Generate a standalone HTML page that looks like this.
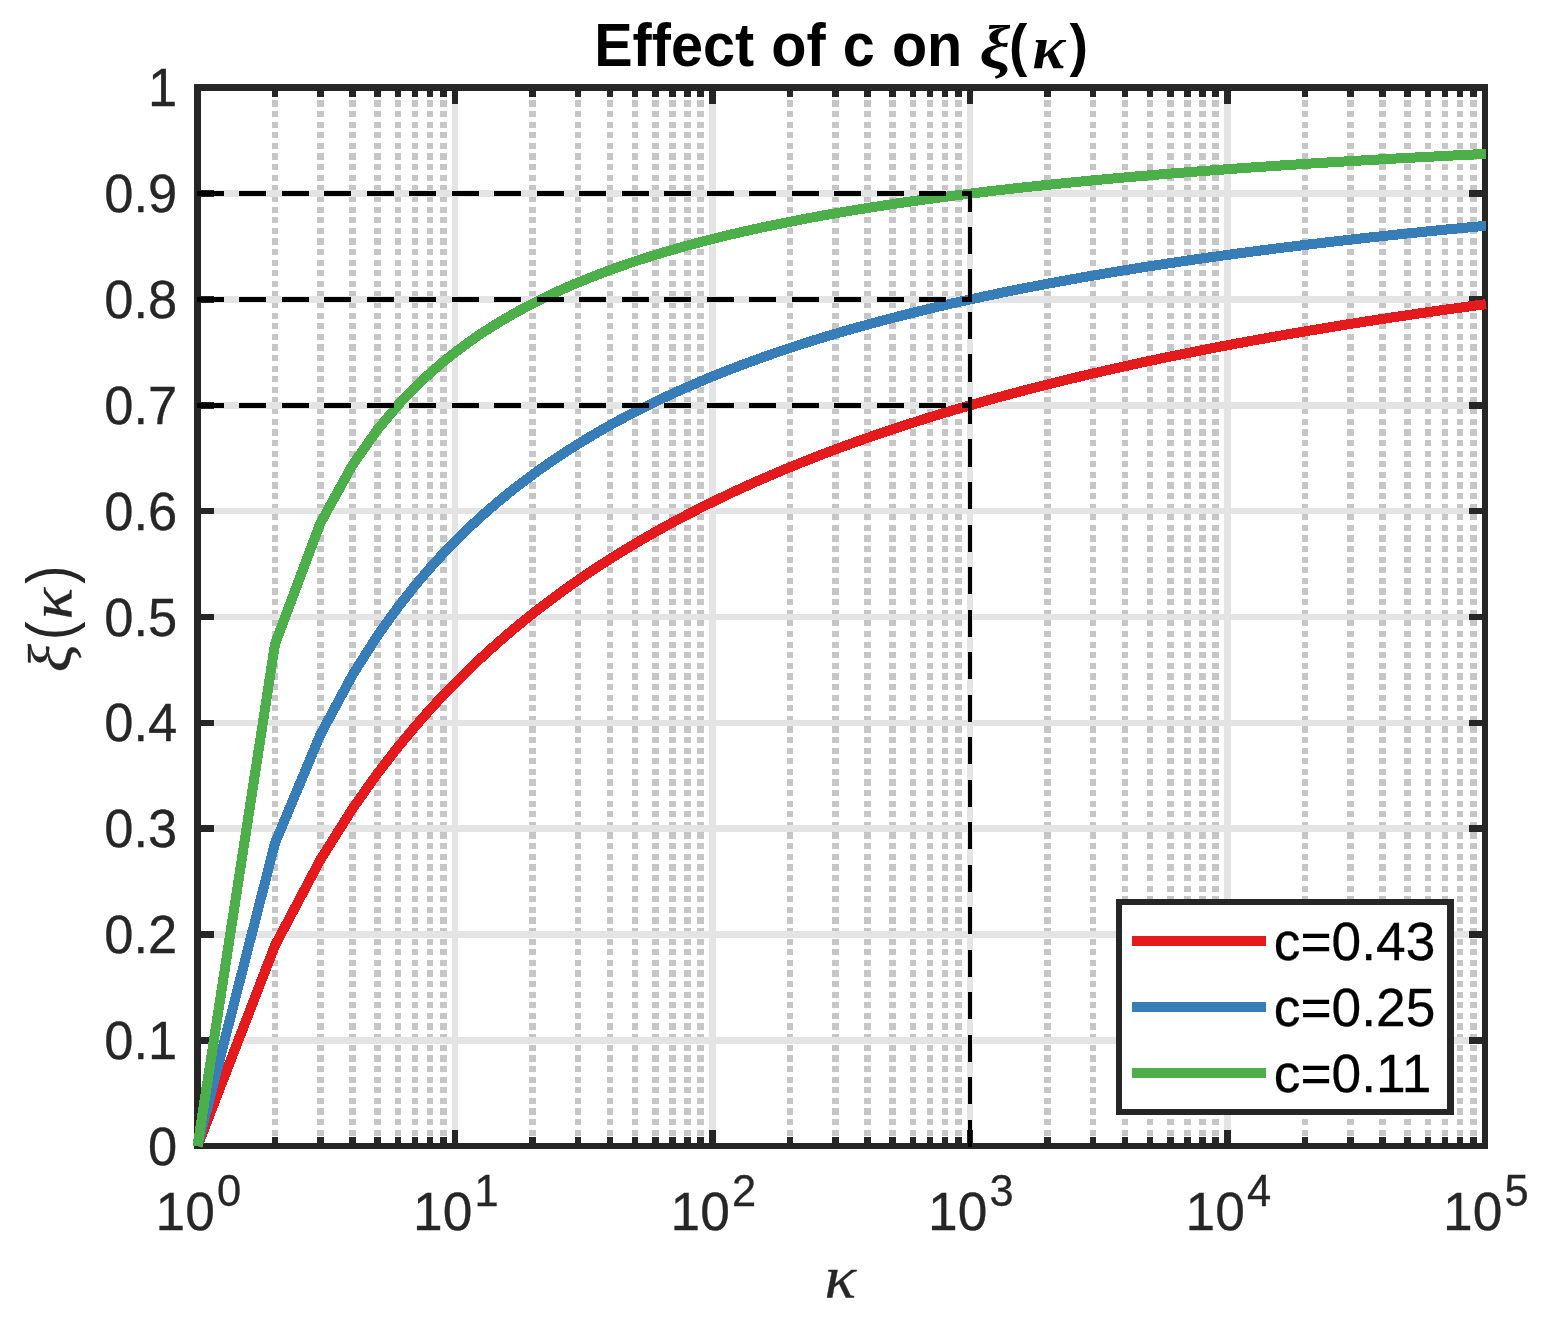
<!DOCTYPE html>
<html lang="en"><head><meta charset="utf-8"><title>Effect of c on ξ(κ)</title>
<style>html,body{margin:0;padding:0;background:#fff;}body{width:1547px;height:1324px;overflow:hidden;}svg{display:block;}text{font-family:'Liberation Sans', 'DejaVu Sans', sans-serif;}text.m,tspan.m{font-family:'Liberation Serif', 'DejaVu Serif', serif;}.i{font-style:italic;}.b{font-weight:bold;}</style>
</head><body>
<svg width="1547" height="1324" viewBox="0 0 1547 1324">
<rect x="0" y="0" width="1547" height="1324" fill="#ffffff"/>
<g stroke="#c6c6c6" stroke-dasharray="6.2 4.41" stroke-dashoffset="8.32" fill="none" shape-rendering="crispEdges">
<line x1="275.0" y1="87.5" x2="275.0" y2="1146" stroke-width="6"/>
<line x1="320.5" y1="87.5" x2="320.5" y2="1146" stroke-width="7"/>
<line x1="352.5" y1="87.5" x2="352.5" y2="1146" stroke-width="7"/>
<line x1="377.5" y1="87.5" x2="377.5" y2="1146" stroke-width="7"/>
<line x1="398.0" y1="87.5" x2="398.0" y2="1146" stroke-width="6"/>
<line x1="415.0" y1="87.5" x2="415.0" y2="1146" stroke-width="6"/>
<line x1="430.0" y1="87.5" x2="430.0" y2="1146" stroke-width="6"/>
<line x1="443.5" y1="87.5" x2="443.5" y2="1146" stroke-width="7"/>
<line x1="532.5" y1="87.5" x2="532.5" y2="1146" stroke-width="7"/>
<line x1="578.0" y1="87.5" x2="578.0" y2="1146" stroke-width="6"/>
<line x1="610.0" y1="87.5" x2="610.0" y2="1146" stroke-width="6"/>
<line x1="635.0" y1="87.5" x2="635.0" y2="1146" stroke-width="6"/>
<line x1="655.5" y1="87.5" x2="655.5" y2="1146" stroke-width="7"/>
<line x1="672.5" y1="87.5" x2="672.5" y2="1146" stroke-width="7"/>
<line x1="687.5" y1="87.5" x2="687.5" y2="1146" stroke-width="7"/>
<line x1="700.5" y1="87.5" x2="700.5" y2="1146" stroke-width="7"/>
<line x1="790.0" y1="87.5" x2="790.0" y2="1146" stroke-width="6"/>
<line x1="835.5" y1="87.5" x2="835.5" y2="1146" stroke-width="7"/>
<line x1="867.5" y1="87.5" x2="867.5" y2="1146" stroke-width="7"/>
<line x1="892.5" y1="87.5" x2="892.5" y2="1146" stroke-width="7"/>
<line x1="913.0" y1="87.5" x2="913.0" y2="1146" stroke-width="6"/>
<line x1="930.0" y1="87.5" x2="930.0" y2="1146" stroke-width="6"/>
<line x1="945.0" y1="87.5" x2="945.0" y2="1146" stroke-width="6"/>
<line x1="958.5" y1="87.5" x2="958.5" y2="1146" stroke-width="7"/>
<line x1="1047.5" y1="87.5" x2="1047.5" y2="1146" stroke-width="7"/>
<line x1="1093.0" y1="87.5" x2="1093.0" y2="1146" stroke-width="6"/>
<line x1="1125.0" y1="87.5" x2="1125.0" y2="1146" stroke-width="6"/>
<line x1="1150.0" y1="87.5" x2="1150.0" y2="1146" stroke-width="6"/>
<line x1="1170.5" y1="87.5" x2="1170.5" y2="1146" stroke-width="7"/>
<line x1="1187.5" y1="87.5" x2="1187.5" y2="1146" stroke-width="7"/>
<line x1="1202.5" y1="87.5" x2="1202.5" y2="1146" stroke-width="7"/>
<line x1="1215.5" y1="87.5" x2="1215.5" y2="1146" stroke-width="7"/>
<line x1="1305.0" y1="87.5" x2="1305.0" y2="1146" stroke-width="6"/>
<line x1="1350.5" y1="87.5" x2="1350.5" y2="1146" stroke-width="7"/>
<line x1="1382.5" y1="87.5" x2="1382.5" y2="1146" stroke-width="7"/>
<line x1="1407.5" y1="87.5" x2="1407.5" y2="1146" stroke-width="7"/>
<line x1="1428.0" y1="87.5" x2="1428.0" y2="1146" stroke-width="6"/>
<line x1="1445.0" y1="87.5" x2="1445.0" y2="1146" stroke-width="6"/>
<line x1="1460.0" y1="87.5" x2="1460.0" y2="1146" stroke-width="6"/>
<line x1="1473.5" y1="87.5" x2="1473.5" y2="1146" stroke-width="7"/>
</g>
<g fill="#e4e4e4" shape-rendering="crispEdges">
<rect x="452" y="84" width="6" height="1065"/>
<rect x="709" y="84" width="7" height="1065"/>
<rect x="967" y="84" width="6" height="1065"/>
<rect x="1224" y="84" width="7" height="1065"/>
<rect x="194" y="1037" width="1294" height="7"/>
<rect x="194" y="931" width="1294" height="7"/>
<rect x="194" y="825" width="1294" height="7"/>
<rect x="194" y="720" width="1294" height="6"/>
<rect x="194" y="614" width="1294" height="6"/>
<rect x="194" y="508" width="1294" height="6"/>
<rect x="194" y="402" width="1294" height="7"/>
<rect x="194" y="296" width="1294" height="7"/>
<rect x="194" y="190" width="1294" height="7"/>
</g>
<g fill="#262626" shape-rendering="crispEdges">
<rect x="272" y="84" width="6" height="13"/>
<rect x="272" y="1137" width="6" height="12"/>
<rect x="317" y="84" width="7" height="13"/>
<rect x="317" y="1137" width="7" height="12"/>
<rect x="349" y="84" width="7" height="13"/>
<rect x="349" y="1137" width="7" height="12"/>
<rect x="374" y="84" width="7" height="13"/>
<rect x="374" y="1137" width="7" height="12"/>
<rect x="395" y="84" width="6" height="13"/>
<rect x="395" y="1137" width="6" height="12"/>
<rect x="412" y="84" width="6" height="13"/>
<rect x="412" y="1137" width="6" height="12"/>
<rect x="427" y="84" width="6" height="13"/>
<rect x="427" y="1137" width="6" height="12"/>
<rect x="440" y="84" width="7" height="13"/>
<rect x="440" y="1137" width="7" height="12"/>
<rect x="452" y="84" width="6" height="20"/>
<rect x="452" y="1130" width="6" height="19"/>
<rect x="529" y="84" width="7" height="13"/>
<rect x="529" y="1137" width="7" height="12"/>
<rect x="575" y="84" width="6" height="13"/>
<rect x="575" y="1137" width="6" height="12"/>
<rect x="607" y="84" width="6" height="13"/>
<rect x="607" y="1137" width="6" height="12"/>
<rect x="632" y="84" width="6" height="13"/>
<rect x="632" y="1137" width="6" height="12"/>
<rect x="652" y="84" width="7" height="13"/>
<rect x="652" y="1137" width="7" height="12"/>
<rect x="669" y="84" width="7" height="13"/>
<rect x="669" y="1137" width="7" height="12"/>
<rect x="684" y="84" width="7" height="13"/>
<rect x="684" y="1137" width="7" height="12"/>
<rect x="697" y="84" width="7" height="13"/>
<rect x="697" y="1137" width="7" height="12"/>
<rect x="709" y="84" width="7" height="20"/>
<rect x="709" y="1130" width="7" height="19"/>
<rect x="787" y="84" width="6" height="13"/>
<rect x="787" y="1137" width="6" height="12"/>
<rect x="832" y="84" width="7" height="13"/>
<rect x="832" y="1137" width="7" height="12"/>
<rect x="864" y="84" width="7" height="13"/>
<rect x="864" y="1137" width="7" height="12"/>
<rect x="889" y="84" width="7" height="13"/>
<rect x="889" y="1137" width="7" height="12"/>
<rect x="910" y="84" width="6" height="13"/>
<rect x="910" y="1137" width="6" height="12"/>
<rect x="927" y="84" width="6" height="13"/>
<rect x="927" y="1137" width="6" height="12"/>
<rect x="942" y="84" width="6" height="13"/>
<rect x="942" y="1137" width="6" height="12"/>
<rect x="955" y="84" width="7" height="13"/>
<rect x="955" y="1137" width="7" height="12"/>
<rect x="967" y="84" width="6" height="20"/>
<rect x="967" y="1130" width="6" height="19"/>
<rect x="1044" y="84" width="7" height="13"/>
<rect x="1044" y="1137" width="7" height="12"/>
<rect x="1090" y="84" width="6" height="13"/>
<rect x="1090" y="1137" width="6" height="12"/>
<rect x="1122" y="84" width="6" height="13"/>
<rect x="1122" y="1137" width="6" height="12"/>
<rect x="1147" y="84" width="6" height="13"/>
<rect x="1147" y="1137" width="6" height="12"/>
<rect x="1167" y="84" width="7" height="13"/>
<rect x="1167" y="1137" width="7" height="12"/>
<rect x="1184" y="84" width="7" height="13"/>
<rect x="1184" y="1137" width="7" height="12"/>
<rect x="1199" y="84" width="7" height="13"/>
<rect x="1199" y="1137" width="7" height="12"/>
<rect x="1212" y="84" width="7" height="13"/>
<rect x="1212" y="1137" width="7" height="12"/>
<rect x="1224" y="84" width="7" height="20"/>
<rect x="1224" y="1130" width="7" height="19"/>
<rect x="1302" y="84" width="6" height="13"/>
<rect x="1302" y="1137" width="6" height="12"/>
<rect x="1347" y="84" width="7" height="13"/>
<rect x="1347" y="1137" width="7" height="12"/>
<rect x="1379" y="84" width="7" height="13"/>
<rect x="1379" y="1137" width="7" height="12"/>
<rect x="1404" y="84" width="7" height="13"/>
<rect x="1404" y="1137" width="7" height="12"/>
<rect x="1425" y="84" width="6" height="13"/>
<rect x="1425" y="1137" width="6" height="12"/>
<rect x="1442" y="84" width="6" height="13"/>
<rect x="1442" y="1137" width="6" height="12"/>
<rect x="1457" y="84" width="6" height="13"/>
<rect x="1457" y="1137" width="6" height="12"/>
<rect x="1470" y="84" width="7" height="13"/>
<rect x="1470" y="1137" width="7" height="12"/>
<rect x="194" y="1037" width="20" height="7"/>
<rect x="1469" y="1037" width="19" height="7"/>
<rect x="194" y="931" width="20" height="7"/>
<rect x="1469" y="931" width="19" height="7"/>
<rect x="194" y="825" width="20" height="7"/>
<rect x="1469" y="825" width="19" height="7"/>
<rect x="194" y="720" width="20" height="6"/>
<rect x="1469" y="720" width="19" height="6"/>
<rect x="194" y="614" width="20" height="6"/>
<rect x="1469" y="614" width="19" height="6"/>
<rect x="194" y="508" width="20" height="6"/>
<rect x="1469" y="508" width="19" height="6"/>
<rect x="194" y="402" width="20" height="7"/>
<rect x="1469" y="402" width="19" height="7"/>
<rect x="194" y="296" width="20" height="7"/>
<rect x="1469" y="296" width="19" height="7"/>
<rect x="194" y="190" width="20" height="7"/>
<rect x="1469" y="190" width="19" height="7"/>
<rect x="194" y="84" width="7" height="1065"/>
<rect x="1482" y="84" width="6" height="1065"/>
<rect x="194" y="84" width="1294" height="7"/>
<rect x="194" y="1143" width="1294" height="6"/>
</g>
<g shape-rendering="crispEdges">
<polyline points="197.50,1146.19 275.02,945.40 320.36,859.73 352.53,808.64 377.48,773.44 397.87,747.14 415.11,726.42 430.05,709.50 443.22,695.30 455.00,683.14 465.66,672.55 475.39,663.21 484.34,654.87 492.63,647.37 500.34,640.56 507.56,634.33 514.34,628.61 520.73,623.33 526.78,618.43 532.52,613.86 537.97,609.58 543.17,605.57 548.14,601.80 552.90,598.23 557.47,594.86 561.86,591.66 566.08,588.62 570.14,585.73 574.07,582.97 577.86,580.33 581.53,577.80 585.08,575.38 588.52,573.06 591.86,570.82 595.10,568.68 598.25,566.60 601.31,564.61 604.29,562.68 607.20,560.82 610.03,559.02 612.79,557.27 615.49,555.59 618.12,553.95 620.69,552.36 623.20,550.82 625.66,549.32 628.07,547.86 630.42,546.44 632.73,545.06 634.98,543.72 637.20,542.41 639.37,541.13 641.50,539.88 643.59,538.67 645.64,537.48 647.66,536.32 649.64,535.19 651.58,534.08 653.49,533.00 655.37,531.93 657.22,530.90 659.04,529.88 660.83,528.88 662.59,527.91 664.33,526.95 666.03,526.01 667.71,525.09 669.37,524.19 671.00,523.31 672.61,522.44 674.20,521.58 675.76,520.75 677.31,519.92 678.83,519.11 680.33,518.32 681.81,517.54 683.27,516.77 684.71,516.01 686.14,515.27 687.55,514.53 688.93,513.81 690.31,513.10 691.66,512.40 693.00,511.72 694.33,511.04 695.63,510.37 696.93,509.71 698.20,509.06 699.47,508.43 700.72,507.80 701.95,507.17 703.18,506.56 704.38,505.96 705.58,505.36 706.76,504.77 707.93,504.19 709.09,503.62 710.24,503.06 711.38,502.50 712.50,501.95 713.61,501.40 714.71,500.87 715.81,500.33 716.89,499.81 717.96,499.29 719.02,498.78 720.07,498.28 721.11,497.78 722.14,497.28 723.16,496.79 724.17,496.31 725.17,495.83 726.17,495.36 727.15,494.90 728.13,494.43 729.10,493.98 730.06,493.53 731.01,493.08 731.95,492.64 732.89,492.20 733.82,491.77 734.74,491.34 735.65,490.92 736.56,490.50 737.45,490.08 738.35,489.67 739.23,489.26 740.11,488.86 740.98,488.46 741.84,488.07 742.70,487.67 743.55,487.29 744.39,486.90 745.23,486.52 746.06,486.15 746.89,485.77 747.71,485.40 748.52,485.04 749.33,484.67 750.13,484.31 750.92,483.95 751.71,483.60 752.50,483.25 753.28,482.90 754.05,482.56 754.82,482.22 755.58,481.88 756.34,481.54 757.10,481.21 757.84,480.88 758.59,480.55 759.32,480.23 760.06,479.91 760.79,479.59 761.51,479.27 762.23,478.95 762.94,478.64 763.65,478.33 764.36,478.03 765.06,477.72 765.76,477.42 766.45,477.12 767.14,476.82 767.82,476.53 768.50,476.24 769.18,475.94 769.85,475.66 770.52,475.37 771.18,475.08 771.84,474.80 772.50,474.52 773.15,474.24 773.80,473.97 774.44,473.69 775.08,473.42 775.72,473.15 776.35,472.88 776.98,472.62 777.61,472.35 778.23,472.09 778.85,471.83 779.47,471.57 780.08,471.31 780.69,471.06 781.30,470.80 781.90,470.55 782.50,470.30 783.10,470.05 783.69,469.80 784.28,469.56 784.87,469.31 785.45,469.07 786.03,468.83 786.61,468.59 787.18,468.35 787.76,468.12 788.33,467.88 788.89,467.65 789.45,467.42 790.02,467.19 790.57,466.96 791.13,466.73 791.68,466.50 792.23,466.28 792.78,466.06 793.32,465.83 793.86,465.61 794.40,465.39 794.94,465.18 795.47,464.96 796.00,464.74 796.53,464.53 797.06,464.32 797.58,464.10 798.10,463.89 798.62,463.68 799.14,463.48 799.65,463.27 800.16,463.06 800.67,462.86 801.18,462.66 801.69,462.45 802.19,462.25 802.69,462.05 803.19,461.85 803.68,461.65 804.18,461.46 804.67,461.26 805.16,461.07 805.64,460.87 806.13,460.68 806.61,460.49 807.09,460.30 807.57,460.11 808.05,459.92 808.52,459.73 809.00,459.55 809.47,459.36 809.94,459.18 810.40,458.99 810.87,458.81 811.33,458.63 811.79,458.45 812.25,458.27 812.71,458.09 813.17,457.91 813.62,457.73 814.07,457.56 814.52,457.38 814.97,457.21 815.42,457.03 815.86,456.86 816.30,456.69 816.74,456.52 817.18,456.35 817.62,456.18 818.06,456.01 818.49,455.84 818.92,455.67 819.36,455.51 819.78,455.34 820.21,455.18 820.64,455.01 821.06,454.85 821.49,454.69 821.91,454.52 822.33,454.36 822.74,454.20 823.16,454.04 823.58,453.88 823.99,453.73 824.40,453.57 824.81,453.41 825.22,453.26 825.63,453.10 826.03,452.95 826.44,452.79 826.84,452.64 827.24,452.49 827.64,452.34 828.04,452.18 828.44,452.03 828.84,451.88 829.23,451.73 829.62,451.59 830.01,451.44 830.40,451.29 830.79,451.14 831.18,451.00 831.57,450.85 831.95,450.71 832.34,450.56 832.72,450.42 833.10,450.28 833.48,450.14 833.86,449.99 834.23,449.85 834.61,449.71 834.99,449.57 835.36,449.43 835.73,449.29 836.10,449.16 836.47,449.02 836.84,448.88 837.21,448.74 837.57,448.61 837.94,448.47 838.30,448.34 838.66,448.20 839.03,448.07 839.39,447.94 839.74,447.80 840.10,447.67 840.46,447.54 840.81,447.41 841.17,447.28 841.52,447.15 841.87,447.02 842.23,446.89 842.58,446.76 842.93,446.63 843.27,446.50 843.62,446.37 843.97,446.25 844.31,446.12 844.65,446.00 845.00,445.87 845.34,445.75 845.68,445.62 846.02,445.50 846.36,445.37 846.69,445.25 847.03,445.13 847.36,445.01 847.70,444.88 848.03,444.76 848.36,444.64 848.70,444.52 849.03,444.40 849.36,444.28 849.68,444.16 850.01,444.04 850.34,443.93 850.66,443.81 850.99,443.69 851.31,443.57 851.63,443.46 851.96,443.34 852.28,443.23 852.60,443.11 852.92,443.00 853.23,442.88 853.55,442.77 853.87,442.65 854.18,442.54 854.50,442.43 854.81,442.31 855.12,442.20 855.44,442.09 855.75,441.98 856.06,441.87 856.37,441.76 856.68,441.65 856.98,441.54 857.29,441.43 857.60,441.32 857.90,441.21 858.21,441.10 858.51,440.99 858.81,440.89 859.11,440.78 859.41,440.67 859.72,440.56 860.01,440.46 860.31,440.35 860.61,440.25 860.91,440.14 861.20,440.04 861.50,439.93 861.79,439.83 862.09,439.72 862.38,439.62 862.67,439.52 862.97,439.41 863.26,439.31 863.55,439.21 863.84,439.11 864.12,439.01 864.41,438.90 864.70,438.80 864.99,438.70 865.27,438.60 865.56,438.50 865.84,438.40 866.12,438.30 866.41,438.20 866.69,438.10 866.97,438.01 867.25,437.91 867.53,437.81 869.74,437.04 871.96,436.27 874.17,435.50 876.39,434.74 878.60,433.98 880.82,433.23 883.03,432.47 885.25,431.72 887.46,430.98 889.68,430.24 891.89,429.50 894.10,428.76 896.32,428.03 898.53,427.30 900.75,426.57 902.96,425.85 905.18,425.12 907.39,424.41 909.61,423.69 911.82,422.98 914.04,422.27 916.25,421.57 918.46,420.86 920.68,420.16 922.89,419.47 925.11,418.77 927.32,418.08 929.54,417.39 931.75,416.71 933.97,416.03 936.18,415.35 938.40,414.67 940.61,414.00 942.82,413.33 945.04,412.66 947.25,411.99 949.47,411.33 951.68,410.67 953.90,410.01 956.11,409.36 958.33,408.70 960.54,408.05 962.76,407.41 964.97,406.76 967.18,406.12 969.40,405.48 971.61,404.85 973.83,404.21 976.04,403.58 978.26,402.95 980.47,402.33 982.69,401.70 984.90,401.08 987.12,400.46 989.33,399.84 991.54,399.23 993.76,398.62 995.97,398.01 998.19,397.40 1000.40,396.80 1002.62,396.19 1004.83,395.59 1007.05,395.00 1009.26,394.40 1011.48,393.81 1013.69,393.22 1015.90,392.63 1018.12,392.04 1020.33,391.46 1022.55,390.88 1024.76,390.30 1026.98,389.72 1029.19,389.15 1031.41,388.57 1033.62,388.00 1035.84,387.43 1038.05,386.87 1040.26,386.30 1042.48,385.74 1044.69,385.18 1046.91,384.62 1049.12,384.07 1051.34,383.51 1053.55,382.96 1055.77,382.41 1057.98,381.87 1060.20,381.32 1062.41,380.78 1064.62,380.23 1066.84,379.70 1069.05,379.16 1071.27,378.62 1073.48,378.09 1075.70,377.56 1077.91,377.03 1080.13,376.50 1082.34,375.97 1084.56,375.45 1086.77,374.93 1088.98,374.41 1091.20,373.89 1093.41,373.37 1095.63,372.86 1097.84,372.35 1100.06,371.83 1102.27,371.33 1104.49,370.82 1106.70,370.31 1108.92,369.81 1111.13,369.31 1113.34,368.81 1115.56,368.31 1117.77,367.81 1119.99,367.32 1122.20,366.83 1124.42,366.33 1126.63,365.85 1128.85,365.36 1131.06,364.87 1133.28,364.39 1135.49,363.90 1137.70,363.42 1139.92,362.94 1142.13,362.47 1144.35,361.99 1146.56,361.52 1148.78,361.04 1150.99,360.57 1153.21,360.10 1155.42,359.63 1157.64,359.17 1159.85,358.70 1162.06,358.24 1164.28,357.78 1166.49,357.32 1168.71,356.86 1170.92,356.40 1173.14,355.95 1175.35,355.50 1177.57,355.04 1179.78,354.59 1182.00,354.14 1184.21,353.70 1186.42,353.25 1188.64,352.81 1190.85,352.36 1193.07,351.92 1195.28,351.48 1197.50,351.04 1199.71,350.60 1201.93,350.17 1204.14,349.73 1206.36,349.30 1208.57,348.87 1210.78,348.44 1213.00,348.01 1215.21,347.58 1217.43,347.16 1219.64,346.73 1221.86,346.31 1224.07,345.89 1226.29,345.47 1228.50,345.05 1230.72,344.63 1232.93,344.22 1235.14,343.80 1237.36,343.39 1239.57,342.97 1241.79,342.56 1244.00,342.15 1246.22,341.75 1248.43,341.34 1250.65,340.93 1252.86,340.53 1255.08,340.13 1257.29,339.72 1259.50,339.32 1261.72,338.92 1263.93,338.53 1266.15,338.13 1268.36,337.73 1270.58,337.34 1272.79,336.95 1275.01,336.56 1277.22,336.17 1279.44,335.78 1281.65,335.39 1283.86,335.00 1286.08,334.62 1288.29,334.23 1290.51,333.85 1292.72,333.47 1294.94,333.08 1297.15,332.71 1299.37,332.33 1301.58,331.95 1303.80,331.57 1306.01,331.20 1308.22,330.82 1310.44,330.45 1312.65,330.08 1314.87,329.71 1317.08,329.34 1319.30,328.97 1321.51,328.61 1323.73,328.24 1325.94,327.87 1328.16,327.51 1330.37,327.15 1332.58,326.79 1334.80,326.43 1337.01,326.07 1339.23,325.71 1341.44,325.35 1343.66,324.99 1345.87,324.64 1348.09,324.29 1350.30,323.93 1352.52,323.58 1354.73,323.23 1356.94,322.88 1359.16,322.53 1361.37,322.18 1363.59,321.84 1365.80,321.49 1368.02,321.15 1370.23,320.80 1372.45,320.46 1374.66,320.12 1376.88,319.78 1379.09,319.44 1381.30,319.10 1383.52,318.76 1385.73,318.43 1387.95,318.09 1390.16,317.76 1392.38,317.42 1394.59,317.09 1396.81,316.76 1399.02,316.43 1401.24,316.10 1403.45,315.77 1405.66,315.44 1407.88,315.11 1410.09,314.79 1412.31,314.46 1414.52,314.14 1416.74,313.81 1418.95,313.49 1421.17,313.17 1423.38,312.85 1425.60,312.53 1427.81,312.21 1430.02,311.89 1432.24,311.58 1434.45,311.26 1436.67,310.94 1438.88,310.63 1441.10,310.32 1443.31,310.00 1445.53,309.69 1447.74,309.38 1449.96,309.07 1452.17,308.76 1454.38,308.45 1456.60,308.15 1458.81,307.84 1461.03,307.54 1463.24,307.23 1465.46,306.93 1467.67,306.62 1469.89,306.32 1472.10,306.02 1474.32,305.72 1476.53,305.42 1478.74,305.12 1480.96,304.82 1483.17,304.53 1485.00,304.28 1485.99,304.15" fill="none" stroke="#e41a1c" stroke-width="10" stroke-linejoin="round" stroke-linecap="butt"/>
<polyline points="197.50,1146.19 275.02,843.05 320.36,734.67 352.53,674.89 377.48,635.63 397.87,607.24 415.11,585.44 430.05,567.98 443.22,553.57 455.00,541.39 465.66,530.91 475.39,521.75 484.34,513.66 492.63,506.43 500.34,499.92 507.56,494.01 514.34,488.61 520.73,483.65 526.78,479.06 532.52,474.82 537.97,470.86 543.17,467.16 548.14,463.69 552.90,460.43 557.47,457.35 561.86,454.45 566.08,451.69 570.14,449.07 574.07,446.59 577.86,444.21 581.53,441.95 585.08,439.78 588.52,437.71 591.86,435.72 595.10,433.81 598.25,431.98 601.31,430.21 604.29,428.51 607.20,426.87 610.03,425.28 612.79,423.75 615.49,422.27 618.12,420.83 620.69,419.44 623.20,418.10 625.66,416.79 628.07,415.52 630.42,414.29 632.73,413.09 634.98,411.93 637.20,410.79 639.37,409.69 641.50,408.61 643.59,407.56 645.64,406.54 647.66,405.54 649.64,404.57 651.58,403.61 653.49,402.68 655.37,401.77 657.22,400.89 659.04,400.02 660.83,399.16 662.59,398.33 664.33,397.52 666.03,396.72 667.71,395.93 669.37,395.17 671.00,394.41 672.61,393.67 674.20,392.95 675.76,392.24 677.31,391.54 678.83,390.86 680.33,390.18 681.81,389.52 683.27,388.87 684.71,388.23 686.14,387.61 687.55,386.99 688.93,386.38 690.31,385.78 691.66,385.20 693.00,384.62 694.33,384.05 695.63,383.49 696.93,382.94 698.20,382.39 699.47,381.86 700.72,381.33 701.95,380.81 703.18,380.30 704.38,379.79 705.58,379.29 706.76,378.80 707.93,378.32 709.09,377.84 710.24,377.37 711.38,376.90 712.50,376.44 713.61,375.99 714.71,375.54 715.81,375.10 716.89,374.67 717.96,374.24 719.02,373.81 720.07,373.39 721.11,372.98 722.14,372.57 723.16,372.16 724.17,371.76 725.17,371.37 726.17,370.98 727.15,370.59 728.13,370.21 729.10,369.83 730.06,369.46 731.01,369.09 731.95,368.73 732.89,368.37 733.82,368.01 734.74,367.66 735.65,367.31 736.56,366.96 737.45,366.62 738.35,366.28 739.23,365.95 740.11,365.61 740.98,365.29 741.84,364.96 742.70,364.64 743.55,364.32 744.39,364.00 745.23,363.69 746.06,363.38 746.89,363.08 747.71,362.77 748.52,362.47 749.33,362.18 750.13,361.88 750.92,361.59 751.71,361.30 752.50,361.01 753.28,360.73 754.05,360.45 754.82,360.17 755.58,359.89 756.34,359.61 757.10,359.34 757.84,359.07 758.59,358.81 759.32,358.54 760.06,358.28 760.79,358.02 761.51,357.76 762.23,357.50 762.94,357.25 763.65,357.00 764.36,356.75 765.06,356.50 765.76,356.25 766.45,356.01 767.14,355.77 767.82,355.53 768.50,355.29 769.18,355.05 769.85,354.82 770.52,354.59 771.18,354.35 771.84,354.13 772.50,353.90 773.15,353.67 773.80,353.45 774.44,353.23 775.08,353.01 775.72,352.79 776.35,352.57 776.98,352.35 777.61,352.14 778.23,351.93 778.85,351.71 779.47,351.50 780.08,351.30 780.69,351.09 781.30,350.88 781.90,350.68 782.50,350.48 783.10,350.28 783.69,350.08 784.28,349.88 784.87,349.68 785.45,349.49 786.03,349.29 786.61,349.10 787.18,348.91 787.76,348.71 788.33,348.53 788.89,348.34 789.45,348.15 790.02,347.96 790.57,347.78 791.13,347.60 791.68,347.41 792.23,347.23 792.78,347.05 793.32,346.87 793.86,346.70 794.40,346.52 794.94,346.34 795.47,346.17 796.00,346.00 796.53,345.82 797.06,345.65 797.58,345.48 798.10,345.31 798.62,345.15 799.14,344.98 799.65,344.81 800.16,344.65 800.67,344.48 801.18,344.32 801.69,344.16 802.19,343.99 802.69,343.83 803.19,343.67 803.68,343.52 804.18,343.36 804.67,343.20 805.16,343.04 805.64,342.89 806.13,342.74 806.61,342.58 807.09,342.43 807.57,342.28 808.05,342.13 808.52,341.98 809.00,341.83 809.47,341.68 809.94,341.53 810.40,341.38 810.87,341.24 811.33,341.09 811.79,340.95 812.25,340.80 812.71,340.66 813.17,340.52 813.62,340.38 814.07,340.23 814.52,340.09 814.97,339.95 815.42,339.82 815.86,339.68 816.30,339.54 816.74,339.40 817.18,339.27 817.62,339.13 818.06,339.00 818.49,338.86 818.92,338.73 819.36,338.60 819.78,338.47 820.21,338.33 820.64,338.20 821.06,338.07 821.49,337.94 821.91,337.82 822.33,337.69 822.74,337.56 823.16,337.43 823.58,337.31 823.99,337.18 824.40,337.05 824.81,336.93 825.22,336.81 825.63,336.68 826.03,336.56 826.44,336.44 826.84,336.32 827.24,336.19 827.64,336.07 828.04,335.95 828.44,335.83 828.84,335.71 829.23,335.60 829.62,335.48 830.01,335.36 830.40,335.24 830.79,335.13 831.18,335.01 831.57,334.90 831.95,334.78 832.34,334.67 832.72,334.55 833.10,334.44 833.48,334.33 833.86,334.21 834.23,334.10 834.61,333.99 834.99,333.88 835.36,333.77 835.73,333.66 836.10,333.55 836.47,333.44 836.84,333.33 837.21,333.22 837.57,333.11 837.94,333.01 838.30,332.90 838.66,332.79 839.03,332.69 839.39,332.58 839.74,332.48 840.10,332.37 840.46,332.27 840.81,332.16 841.17,332.06 841.52,331.96 841.87,331.85 842.23,331.75 842.58,331.65 842.93,331.55 843.27,331.45 843.62,331.35 843.97,331.25 844.31,331.15 844.65,331.05 845.00,330.95 845.34,330.85 845.68,330.75 846.02,330.65 846.36,330.56 846.69,330.46 847.03,330.36 847.36,330.26 847.70,330.17 848.03,330.07 848.36,329.98 848.70,329.88 849.03,329.79 849.36,329.69 849.68,329.60 850.01,329.51 850.34,329.41 850.66,329.32 850.99,329.23 851.31,329.13 851.63,329.04 851.96,328.95 852.28,328.86 852.60,328.77 852.92,328.68 853.23,328.59 853.55,328.50 853.87,328.41 854.18,328.32 854.50,328.23 854.81,328.14 855.12,328.05 855.44,327.96 855.75,327.88 856.06,327.79 856.37,327.70 856.68,327.62 856.98,327.53 857.29,327.44 857.60,327.36 857.90,327.27 858.21,327.19 858.51,327.10 858.81,327.02 859.11,326.93 859.41,326.85 859.72,326.76 860.01,326.68 860.31,326.60 860.61,326.51 860.91,326.43 861.20,326.35 861.50,326.27 861.79,326.18 862.09,326.10 862.38,326.02 862.67,325.94 862.97,325.86 863.26,325.78 863.55,325.70 863.84,325.62 864.12,325.54 864.41,325.46 864.70,325.38 864.99,325.30 865.27,325.22 865.56,325.14 865.84,325.06 866.12,324.99 866.41,324.91 866.69,324.83 866.97,324.75 867.25,324.68 867.53,324.60 869.74,323.99 871.96,323.39 874.17,322.79 876.39,322.19 878.60,321.60 880.82,321.01 883.03,320.42 885.25,319.84 887.46,319.25 889.68,318.68 891.89,318.10 894.10,317.53 896.32,316.96 898.53,316.39 900.75,315.82 902.96,315.26 905.18,314.70 907.39,314.15 909.61,313.59 911.82,313.04 914.04,312.49 916.25,311.95 918.46,311.40 920.68,310.86 922.89,310.33 925.11,309.79 927.32,309.26 929.54,308.73 931.75,308.20 933.97,307.68 936.18,307.15 938.40,306.63 940.61,306.11 942.82,305.60 945.04,305.09 947.25,304.58 949.47,304.07 951.68,303.56 953.90,303.06 956.11,302.56 958.33,302.06 960.54,301.56 962.76,301.07 964.97,300.58 967.18,300.09 969.40,299.60 971.61,299.12 973.83,298.63 976.04,298.15 978.26,297.68 980.47,297.20 982.69,296.72 984.90,296.25 987.12,295.78 989.33,295.32 991.54,294.85 993.76,294.39 995.97,293.93 998.19,293.47 1000.40,293.01 1002.62,292.55 1004.83,292.10 1007.05,291.65 1009.26,291.20 1011.48,290.75 1013.69,290.31 1015.90,289.86 1018.12,289.42 1020.33,288.98 1022.55,288.55 1024.76,288.11 1026.98,287.68 1029.19,287.24 1031.41,286.81 1033.62,286.39 1035.84,285.96 1038.05,285.53 1040.26,285.11 1042.48,284.69 1044.69,284.27 1046.91,283.85 1049.12,283.44 1051.34,283.02 1053.55,282.61 1055.77,282.20 1057.98,281.79 1060.20,281.39 1062.41,280.98 1064.62,280.58 1066.84,280.18 1069.05,279.78 1071.27,279.38 1073.48,278.98 1075.70,278.59 1077.91,278.19 1080.13,277.80 1082.34,277.41 1084.56,277.02 1086.77,276.63 1088.98,276.25 1091.20,275.86 1093.41,275.48 1095.63,275.10 1097.84,274.72 1100.06,274.34 1102.27,273.97 1104.49,273.59 1106.70,273.22 1108.92,272.85 1111.13,272.48 1113.34,272.11 1115.56,271.74 1117.77,271.38 1119.99,271.01 1122.20,270.65 1124.42,270.29 1126.63,269.93 1128.85,269.57 1131.06,269.21 1133.28,268.85 1135.49,268.50 1137.70,268.15 1139.92,267.79 1142.13,267.44 1144.35,267.10 1146.56,266.75 1148.78,266.40 1150.99,266.06 1153.21,265.71 1155.42,265.37 1157.64,265.03 1159.85,264.69 1162.06,264.35 1164.28,264.01 1166.49,263.68 1168.71,263.34 1170.92,263.01 1173.14,262.68 1175.35,262.35 1177.57,262.02 1179.78,261.69 1182.00,261.36 1184.21,261.04 1186.42,260.71 1188.64,260.39 1190.85,260.07 1193.07,259.75 1195.28,259.43 1197.50,259.11 1199.71,258.79 1201.93,258.47 1204.14,258.16 1206.36,257.85 1208.57,257.53 1210.78,257.22 1213.00,256.91 1215.21,256.60 1217.43,256.29 1219.64,255.99 1221.86,255.68 1224.07,255.38 1226.29,255.07 1228.50,254.77 1230.72,254.47 1232.93,254.17 1235.14,253.87 1237.36,253.57 1239.57,253.27 1241.79,252.98 1244.00,252.68 1246.22,252.39 1248.43,252.09 1250.65,251.80 1252.86,251.51 1255.08,251.22 1257.29,250.93 1259.50,250.64 1261.72,250.36 1263.93,250.07 1266.15,249.79 1268.36,249.50 1270.58,249.22 1272.79,248.94 1275.01,248.66 1277.22,248.38 1279.44,248.10 1281.65,247.82 1283.86,247.54 1286.08,247.27 1288.29,246.99 1290.51,246.72 1292.72,246.45 1294.94,246.17 1297.15,245.90 1299.37,245.63 1301.58,245.36 1303.80,245.09 1306.01,244.83 1308.22,244.56 1310.44,244.29 1312.65,244.03 1314.87,243.76 1317.08,243.50 1319.30,243.24 1321.51,242.98 1323.73,242.72 1325.94,242.46 1328.16,242.20 1330.37,241.94 1332.58,241.68 1334.80,241.43 1337.01,241.17 1339.23,240.92 1341.44,240.66 1343.66,240.41 1345.87,240.16 1348.09,239.91 1350.30,239.66 1352.52,239.41 1354.73,239.16 1356.94,238.91 1359.16,238.67 1361.37,238.42 1363.59,238.17 1365.80,237.93 1368.02,237.69 1370.23,237.44 1372.45,237.20 1374.66,236.96 1376.88,236.72 1379.09,236.48 1381.30,236.24 1383.52,236.00 1385.73,235.76 1387.95,235.53 1390.16,235.29 1392.38,235.05 1394.59,234.82 1396.81,234.59 1399.02,234.35 1401.24,234.12 1403.45,233.89 1405.66,233.66 1407.88,233.43 1410.09,233.20 1412.31,232.97 1414.52,232.74 1416.74,232.51 1418.95,232.29 1421.17,232.06 1423.38,231.84 1425.60,231.61 1427.81,231.39 1430.02,231.17 1432.24,230.94 1434.45,230.72 1436.67,230.50 1438.88,230.28 1441.10,230.06 1443.31,229.84 1445.53,229.62 1447.74,229.41 1449.96,229.19 1452.17,228.97 1454.38,228.76 1456.60,228.54 1458.81,228.33 1461.03,228.11 1463.24,227.90 1465.46,227.69 1467.67,227.48 1469.89,227.27 1472.10,227.06 1474.32,226.85 1476.53,226.64 1478.74,226.43 1480.96,226.22 1483.17,226.01 1485.00,225.84 1486.00,225.75" fill="none" stroke="#377eb8" stroke-width="10" stroke-linejoin="round" stroke-linecap="butt"/>
<polyline points="197.50,1146.19 275.02,643.94 320.36,523.10 352.53,464.96 377.48,429.55 397.87,405.20 415.11,387.17 430.05,373.13 443.22,361.79 455.00,352.39 465.66,344.42 475.39,337.56 484.34,331.56 492.63,326.26 500.34,321.52 507.56,317.26 514.34,313.40 520.73,309.87 526.78,306.64 532.52,303.65 537.97,300.89 543.17,298.32 548.14,295.92 552.90,293.68 557.47,291.57 561.86,289.59 566.08,287.71 570.14,285.94 574.07,284.26 577.86,282.66 581.53,281.14 585.08,279.69 588.52,278.30 591.86,276.98 595.10,275.71 598.25,274.49 601.31,273.32 604.29,272.20 607.20,271.12 610.03,270.08 612.79,269.07 615.49,268.10 618.12,267.17 620.69,266.26 623.20,265.38 625.66,264.54 628.07,263.71 630.42,262.91 632.73,262.14 634.98,261.39 637.20,260.65 639.37,259.94 641.50,259.25 643.59,258.58 645.64,257.92 647.66,257.28 649.64,256.66 651.58,256.05 653.49,255.46 655.37,254.88 657.22,254.31 659.04,253.76 660.83,253.22 662.59,252.69 664.33,252.17 666.03,251.66 667.71,251.17 669.37,250.68 671.00,250.21 672.61,249.74 674.20,249.28 675.76,248.84 677.31,248.40 678.83,247.97 680.33,247.54 681.81,247.13 683.27,246.72 684.71,246.32 686.14,245.93 687.55,245.54 688.93,245.16 690.31,244.79 691.66,244.42 693.00,244.06 694.33,243.71 695.63,243.36 696.93,243.01 698.20,242.68 699.47,242.34 700.72,242.01 701.95,241.69 703.18,241.37 704.38,241.06 705.58,240.75 706.76,240.45 707.93,240.15 709.09,239.85 710.24,239.56 711.38,239.27 712.50,238.99 713.61,238.71 714.71,238.43 715.81,238.16 716.89,237.89 717.96,237.63 719.02,237.37 720.07,237.11 721.11,236.85 722.14,236.60 723.16,236.35 724.17,236.11 725.17,235.87 726.17,235.63 727.15,235.39 728.13,235.16 729.10,234.93 730.06,234.70 731.01,234.47 731.95,234.25 732.89,234.03 733.82,233.81 734.74,233.59 735.65,233.38 736.56,233.17 737.45,232.96 738.35,232.75 739.23,232.55 740.11,232.35 740.98,232.15 741.84,231.95 742.70,231.75 743.55,231.56 744.39,231.37 745.23,231.18 746.06,230.99 746.89,230.81 747.71,230.62 748.52,230.44 749.33,230.26 750.13,230.08 750.92,229.90 751.71,229.73 752.50,229.55 753.28,229.38 754.05,229.21 754.82,229.04 755.58,228.87 756.34,228.71 757.10,228.54 757.84,228.38 758.59,228.22 759.32,228.06 760.06,227.90 760.79,227.74 761.51,227.59 762.23,227.43 762.94,227.28 763.65,227.13 764.36,226.98 765.06,226.83 765.76,226.68 766.45,226.53 767.14,226.39 767.82,226.24 768.50,226.10 769.18,225.96 769.85,225.82 770.52,225.68 771.18,225.54 771.84,225.40 772.50,225.26 773.15,225.13 773.80,224.99 774.44,224.86 775.08,224.73 775.72,224.60 776.35,224.46 776.98,224.34 777.61,224.21 778.23,224.08 778.85,223.95 779.47,223.83 780.08,223.70 780.69,223.58 781.30,223.46 781.90,223.33 782.50,223.21 783.10,223.09 783.69,222.97 784.28,222.85 784.87,222.74 785.45,222.62 786.03,222.50 786.61,222.39 787.18,222.27 787.76,222.16 788.33,222.05 788.89,221.93 789.45,221.82 790.02,221.71 790.57,221.60 791.13,221.49 791.68,221.38 792.23,221.28 792.78,221.17 793.32,221.06 793.86,220.96 794.40,220.85 794.94,220.75 795.47,220.64 796.00,220.54 796.53,220.44 797.06,220.34 797.58,220.24 798.10,220.13 798.62,220.03 799.14,219.94 799.65,219.84 800.16,219.74 800.67,219.64 801.18,219.54 801.69,219.45 802.19,219.35 802.69,219.26 803.19,219.16 803.68,219.07 804.18,218.97 804.67,218.88 805.16,218.79 805.64,218.70 806.13,218.60 806.61,218.51 807.09,218.42 807.57,218.33 808.05,218.24 808.52,218.16 809.00,218.07 809.47,217.98 809.94,217.89 810.40,217.80 810.87,217.72 811.33,217.63 811.79,217.55 812.25,217.46 812.71,217.38 813.17,217.29 813.62,217.21 814.07,217.13 814.52,217.04 814.97,216.96 815.42,216.88 815.86,216.80 816.30,216.72 816.74,216.64 817.18,216.56 817.62,216.48 818.06,216.40 818.49,216.32 818.92,216.24 819.36,216.16 819.78,216.08 820.21,216.00 820.64,215.93 821.06,215.85 821.49,215.77 821.91,215.70 822.33,215.62 822.74,215.55 823.16,215.47 823.58,215.40 823.99,215.32 824.40,215.25 824.81,215.18 825.22,215.10 825.63,215.03 826.03,214.96 826.44,214.89 826.84,214.82 827.24,214.74 827.64,214.67 828.04,214.60 828.44,214.53 828.84,214.46 829.23,214.39 829.62,214.32 830.01,214.26 830.40,214.19 830.79,214.12 831.18,214.05 831.57,213.98 831.95,213.91 832.34,213.85 832.72,213.78 833.10,213.71 833.48,213.65 833.86,213.58 834.23,213.52 834.61,213.45 834.99,213.39 835.36,213.32 835.73,213.26 836.10,213.19 836.47,213.13 836.84,213.06 837.21,213.00 837.57,212.94 837.94,212.88 838.30,212.81 838.66,212.75 839.03,212.69 839.39,212.63 839.74,212.57 840.10,212.50 840.46,212.44 840.81,212.38 841.17,212.32 841.52,212.26 841.87,212.20 842.23,212.14 842.58,212.08 842.93,212.02 843.27,211.96 843.62,211.90 843.97,211.85 844.31,211.79 844.65,211.73 845.00,211.67 845.34,211.61 845.68,211.56 846.02,211.50 846.36,211.44 846.69,211.39 847.03,211.33 847.36,211.27 847.70,211.22 848.03,211.16 848.36,211.11 848.70,211.05 849.03,210.99 849.36,210.94 849.68,210.88 850.01,210.83 850.34,210.78 850.66,210.72 850.99,210.67 851.31,210.61 851.63,210.56 851.96,210.51 852.28,210.45 852.60,210.40 852.92,210.35 853.23,210.30 853.55,210.24 853.87,210.19 854.18,210.14 854.50,210.09 854.81,210.04 855.12,209.98 855.44,209.93 855.75,209.88 856.06,209.83 856.37,209.78 856.68,209.73 856.98,209.68 857.29,209.63 857.60,209.58 857.90,209.53 858.21,209.48 858.51,209.43 858.81,209.38 859.11,209.33 859.41,209.28 859.72,209.23 860.01,209.19 860.31,209.14 860.61,209.09 860.91,209.04 861.20,208.99 861.50,208.94 861.79,208.90 862.09,208.85 862.38,208.80 862.67,208.76 862.97,208.71 863.26,208.66 863.55,208.62 863.84,208.57 864.12,208.52 864.41,208.48 864.70,208.43 864.99,208.38 865.27,208.34 865.56,208.29 865.84,208.25 866.12,208.20 866.41,208.16 866.69,208.11 866.97,208.07 867.25,208.02 867.53,207.98 869.74,207.63 871.96,207.28 874.17,206.93 876.39,206.59 878.60,206.24 880.82,205.90 883.03,205.56 885.25,205.23 887.46,204.89 889.68,204.56 891.89,204.23 894.10,203.90 896.32,203.57 898.53,203.24 900.75,202.92 902.96,202.60 905.18,202.28 907.39,201.96 909.61,201.64 911.82,201.33 914.04,201.01 916.25,200.70 918.46,200.39 920.68,200.08 922.89,199.78 925.11,199.47 927.32,199.17 929.54,198.87 931.75,198.57 933.97,198.27 936.18,197.97 938.40,197.68 940.61,197.38 942.82,197.09 945.04,196.80 947.25,196.51 949.47,196.22 951.68,195.94 953.90,195.65 956.11,195.37 958.33,195.09 960.54,194.81 962.76,194.53 964.97,194.25 967.18,193.98 969.40,193.70 971.61,193.43 973.83,193.16 976.04,192.89 978.26,192.62 980.47,192.35 982.69,192.09 984.90,191.82 987.12,191.56 989.33,191.30 991.54,191.04 993.76,190.78 995.97,190.52 998.19,190.26 1000.40,190.01 1002.62,189.76 1004.83,189.50 1007.05,189.25 1009.26,189.00 1011.48,188.75 1013.69,188.50 1015.90,188.26 1018.12,188.01 1020.33,187.77 1022.55,187.52 1024.76,187.28 1026.98,187.04 1029.19,186.80 1031.41,186.56 1033.62,186.33 1035.84,186.09 1038.05,185.86 1040.26,185.62 1042.48,185.39 1044.69,185.16 1046.91,184.93 1049.12,184.70 1051.34,184.47 1053.55,184.24 1055.77,184.01 1057.98,183.79 1060.20,183.57 1062.41,183.34 1064.62,183.12 1066.84,182.90 1069.05,182.68 1071.27,182.46 1073.48,182.24 1075.70,182.03 1077.91,181.81 1080.13,181.59 1082.34,181.38 1084.56,181.17 1086.77,180.96 1088.98,180.74 1091.20,180.53 1093.41,180.33 1095.63,180.12 1097.84,179.91 1100.06,179.70 1102.27,179.50 1104.49,179.29 1106.70,179.09 1108.92,178.89 1111.13,178.68 1113.34,178.48 1115.56,178.28 1117.77,178.08 1119.99,177.89 1122.20,177.69 1124.42,177.49 1126.63,177.30 1128.85,177.10 1131.06,176.91 1133.28,176.71 1135.49,176.52 1137.70,176.33 1139.92,176.14 1142.13,175.95 1144.35,175.76 1146.56,175.57 1148.78,175.39 1150.99,175.20 1153.21,175.01 1155.42,174.83 1157.64,174.64 1159.85,174.46 1162.06,174.28 1164.28,174.10 1166.49,173.91 1168.71,173.73 1170.92,173.55 1173.14,173.38 1175.35,173.20 1177.57,173.02 1179.78,172.84 1182.00,172.67 1184.21,172.49 1186.42,172.32 1188.64,172.14 1190.85,171.97 1193.07,171.80 1195.28,171.63 1197.50,171.45 1199.71,171.28 1201.93,171.12 1204.14,170.95 1206.36,170.78 1208.57,170.61 1210.78,170.44 1213.00,170.28 1215.21,170.11 1217.43,169.95 1219.64,169.78 1221.86,169.62 1224.07,169.46 1226.29,169.29 1228.50,169.13 1230.72,168.97 1232.93,168.81 1235.14,168.65 1237.36,168.49 1239.57,168.33 1241.79,168.18 1244.00,168.02 1246.22,167.86 1248.43,167.71 1250.65,167.55 1252.86,167.40 1255.08,167.24 1257.29,167.09 1259.50,166.94 1261.72,166.78 1263.93,166.63 1266.15,166.48 1268.36,166.33 1270.58,166.18 1272.79,166.03 1275.01,165.88 1277.22,165.73 1279.44,165.58 1281.65,165.44 1283.86,165.29 1286.08,165.14 1288.29,165.00 1290.51,164.85 1292.72,164.71 1294.94,164.57 1297.15,164.42 1299.37,164.28 1301.58,164.14 1303.80,163.99 1306.01,163.85 1308.22,163.71 1310.44,163.57 1312.65,163.43 1314.87,163.29 1317.08,163.15 1319.30,163.02 1321.51,162.88 1323.73,162.74 1325.94,162.61 1328.16,162.47 1330.37,162.33 1332.58,162.20 1334.80,162.06 1337.01,161.93 1339.23,161.80 1341.44,161.66 1343.66,161.53 1345.87,161.40 1348.09,161.27 1350.30,161.13 1352.52,161.00 1354.73,160.87 1356.94,160.74 1359.16,160.61 1361.37,160.48 1363.59,160.36 1365.80,160.23 1368.02,160.10 1370.23,159.97 1372.45,159.85 1374.66,159.72 1376.88,159.59 1379.09,159.47 1381.30,159.34 1383.52,159.22 1385.73,159.09 1387.95,158.97 1390.16,158.85 1392.38,158.72 1394.59,158.60 1396.81,158.48 1399.02,158.36 1401.24,158.24 1403.45,158.12 1405.66,158.00 1407.88,157.88 1410.09,157.76 1412.31,157.64 1414.52,157.52 1416.74,157.40 1418.95,157.28 1421.17,157.16 1423.38,157.05 1425.60,156.93 1427.81,156.81 1430.02,156.70 1432.24,156.58 1434.45,156.47 1436.67,156.35 1438.88,156.24 1441.10,156.12 1443.31,156.01 1445.53,155.90 1447.74,155.78 1449.96,155.67 1452.17,155.56 1454.38,155.45 1456.60,155.34 1458.81,155.23 1461.03,155.12 1463.24,155.00 1465.46,154.89 1467.67,154.79 1469.89,154.68 1472.10,154.57 1474.32,154.46 1476.53,154.35 1478.74,154.24 1480.96,154.14 1483.17,154.03 1485.00,153.94 1486.00,153.89" fill="none" stroke="#4daf4a" stroke-width="10" stroke-linejoin="round" stroke-linecap="butt"/>
</g>
<g stroke="#000000" stroke-dasharray="27.1 15.4" fill="none" shape-rendering="crispEdges">
<line x1="196.6" y1="405.5" x2="972" y2="405.5" stroke-width="5"/>
<line x1="196.6" y1="299.5" x2="972" y2="299.5" stroke-width="5"/>
<line x1="196.6" y1="193.5" x2="972" y2="193.5" stroke-width="5"/>
<line x1="970.0" y1="1146.6" x2="970.0" y2="191" stroke-width="4"/>
</g>
<g fill="#262626" stroke="#262626" stroke-width="0.3">
<text transform="translate(177.20,1164.79) scale(0.985,1)" font-size="53.30" text-anchor="end">0</text>
<text transform="translate(177.20,1058.95) scale(0.985,1)" font-size="53.30" text-anchor="end">0.1</text>
<text transform="translate(177.20,953.11) scale(0.985,1)" font-size="53.30" text-anchor="end">0.2</text>
<text transform="translate(177.20,847.27) scale(0.985,1)" font-size="53.30" text-anchor="end">0.3</text>
<text transform="translate(177.20,741.43) scale(0.985,1)" font-size="53.30" text-anchor="end">0.4</text>
<text transform="translate(177.20,635.59) scale(0.985,1)" font-size="53.30" text-anchor="end">0.5</text>
<text transform="translate(177.20,529.75) scale(0.985,1)" font-size="53.30" text-anchor="end">0.6</text>
<text transform="translate(177.20,423.91) scale(0.985,1)" font-size="53.30" text-anchor="end">0.7</text>
<text transform="translate(177.20,318.07) scale(0.985,1)" font-size="53.30" text-anchor="end">0.8</text>
<text transform="translate(177.20,212.23) scale(0.985,1)" font-size="53.30" text-anchor="end">0.9</text>
<text transform="translate(177.20,106.39) scale(0.985,1)" font-size="53.30" text-anchor="end">1</text>
</g>
<g fill="#262626" stroke="#262626" stroke-width="0.3">
<text x="155.50" y="1229.6" font-size="53.30">10<tspan x="217.10" y="1205.6" font-size="43.44">0</tspan></text>
<text x="413.00" y="1229.6" font-size="53.30">10<tspan x="474.60" y="1205.6" font-size="43.44">1</tspan></text>
<text x="670.50" y="1229.6" font-size="53.30">10<tspan x="732.10" y="1205.6" font-size="43.44">2</tspan></text>
<text x="928.00" y="1229.6" font-size="53.30">10<tspan x="989.60" y="1205.6" font-size="43.44">3</tspan></text>
<text x="1185.50" y="1229.6" font-size="53.30">10<tspan x="1247.10" y="1205.6" font-size="43.44">4</tspan></text>
<text x="1443.00" y="1229.6" font-size="53.30">10<tspan x="1504.60" y="1205.6" font-size="43.44">5</tspan></text>
</g>
<text transform="scale(1,1.045)" fill="#000000" class="b" font-size="57.6" word-spacing="1.1"><tspan x="594.2" y="63.16">Effect of c on </tspan><tspan x="979.63" y="64.98" font-size="58.96" textLength="30.98" lengthAdjust="spacingAndGlyphs" class="m i b">ξ</tspan><tspan x="1009.05" y="62.33" font-size="55.75" textLength="18.32" lengthAdjust="spacingAndGlyphs" class="b">(</tspan><tspan x="1032.45" y="65.17" font-size="58.66" textLength="32.61" lengthAdjust="spacingAndGlyphs" class="m i b">κ</tspan><tspan x="1069.63" y="62.33" font-size="55.75" textLength="18.50" lengthAdjust="spacingAndGlyphs" class="b">)</tspan></text>
<text fill="#262626"><tspan x="824.62" y="1296.75" font-size="58.26" textLength="31.58" lengthAdjust="spacingAndGlyphs" class="m i" stroke="#262626" stroke-width="0.30" stroke-linejoin="round">κ</tspan></text>
<text transform="translate(71,670) rotate(-90)" fill="#262626"><tspan x="-2.15" y="0.17" font-size="61.63" textLength="28.17" lengthAdjust="spacingAndGlyphs" class="m i" stroke="#262626" stroke-width="0.30" stroke-linejoin="round">ξ</tspan><tspan x="29.81" y="0.63" font-size="64.59" textLength="18.74" lengthAdjust="spacingAndGlyphs">(</tspan><tspan x="50.62" y="-0.05" font-size="59.78" textLength="31.58" lengthAdjust="spacingAndGlyphs" class="m i" stroke="#262626" stroke-width="0.30" stroke-linejoin="round">κ</tspan><tspan x="86.32" y="0.63" font-size="64.59" textLength="18.11" lengthAdjust="spacingAndGlyphs">)</tspan></text>
<g shape-rendering="crispEdges">
<rect x="1116" y="899" width="338" height="216" fill="#262626"/>
<rect x="1122" y="905" width="325" height="204" fill="#ffffff"/>
<rect x="1132" y="936" width="134" height="10" fill="#e41a1c"/>
<rect x="1132" y="1002" width="134" height="10" fill="#377eb8"/>
<rect x="1132" y="1068" width="134" height="10" fill="#4daf4a"/>
</g>
<text transform="translate(1273.80,960.20) scale(1,1)" font-size="53.30" fill="#000000" stroke="#000000" stroke-width="0.3">c=0.43</text>
<text transform="translate(1273.80,1026.20) scale(1,1)" font-size="53.30" fill="#000000" stroke="#000000" stroke-width="0.3">c=0.25</text>
<text transform="translate(1273.80,1092.20) scale(1,1)" font-size="53.30" fill="#000000" stroke="#000000" stroke-width="0.3">c=0.11</text>
</svg>
</body></html>
